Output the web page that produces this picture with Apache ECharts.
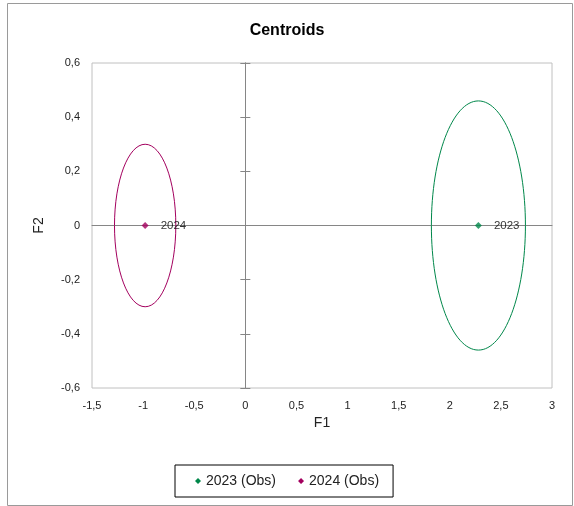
<!DOCTYPE html>
<html>
<head>
<meta charset="utf-8">
<script src="https://cdn.jsdelivr.net/npm/echarts@6/dist/echarts.min.js"></script>
<style>
  html, body { margin: 0; padding: 0; background: #fff; }
  #chart { width: 574px; height: 506px; }
</style>
</head>
<body>
<div id="chart"></div>
<script>
// Centroid positions on the first two factors
var centroidNames = ['2023', '2024'];
var legendNames = ['2023 (Obs)', '2024 (Obs)'];
var centroidF1 = [2.28, -0.98];
var centroidF2 = [0, 0];
// confidence ellipse half-widths (data units)
var ellipseF1 = [0.46, 0.30];
var ellipseF2 = [0.46, 0.30];
var seriesColors = ['#00874a', '#a3005e'];

var xTicks = { min: -1.5, max: 3, interval: 0.5 };
var yTicks = { min: -0.6, max: 0.6, interval: 0.2 };

function fmt(v) {
  var s = Math.abs(v - Math.round(v)) < 1e-9 ? String(Math.round(v)) : (Math.round(v * 10) / 10).toFixed(1);
  return s.replace('.', ',');
}

var font = 'Liberation Sans, Arial, sans-serif';
var axisGray = '#868686';

// zero lines crossing the plot; only the vertical one carries ticks
function zeroAxis(dim, inside, ticks) {
  var base = dim === 'x' ? xTicks : yTicks;
  return {
    type: 'value', min: base.min, max: base.max, interval: base.interval,
    position: dim === 'x' ? 'bottom' : 'left',
    axisLine: { show: true, onZero: true, lineStyle: { color: axisGray, width: 1 } },
    axisTick: { show: ticks, inside: inside, length: 5, lineStyle: { color: axisGray } },
    axisLabel: { show: false },
    splitLine: { show: false }
  };
}

var series = [];
centroidNames.forEach(function(name, i) {
  // ellipse
  series.push({
    type: 'custom',
    name: legendNames[i],
    xAxisIndex: 0, yAxisIndex: 0,
    silent: true,
    data: [[centroidF1[i], centroidF2[i], ellipseF1[i], ellipseF2[i]]],
    renderItem: function(params, api) {
      var c = api.coord([api.value(0), api.value(1)]);
      var s = api.size([api.value(2), api.value(3)]);
      return {
        type: 'ellipse',
        shape: { cx: c[0], cy: c[1], rx: s[0], ry: s[1] },
        style: { fill: 'none', stroke: seriesColors[i], lineWidth: 1 }
      };
    },
    z: 2
  });
  // centroid point
  series.push({
    type: 'scatter',
    name: legendNames[i],
    xAxisIndex: 0, yAxisIndex: 0,
    symbol: 'diamond',
    symbolSize: 7,
    itemStyle: { color: seriesColors[i] },
    label: {
      show: true, position: 'right', distance: 12,
      formatter: name, color: '#000', fontSize: 11.5, fontFamily: font
    },
    data: [[centroidF1[i], centroidF2[i]]],
    z: 5
  });
});

var chart = echarts.init(document.getElementById('chart'));
chart.setOption({
  animation: false,
  title: {
    text: 'Centroids', left: 'center', top: 18,
    textStyle: { fontFamily: font, fontSize: 16, fontWeight: 'bold', color: '#000' }
  },
  graphic: [{
    type: 'rect', silent: true,
    shape: { x: 7.5, y: 3.5, width: 565, height: 502 },
    style: { fill: 'none', stroke: '#9a9a9a', lineWidth: 1 }
  }],
  legend: {
    data: legendNames.map(function(n, i) { return { name: n, itemStyle: { color: seriesColors[i] } }; }),
    left: 175, top: 465,
    icon: 'diamond', itemWidth: 6, itemHeight: 6, itemGap: 22,
    padding: [9, 14, 9, 20],
    borderColor: '#000', borderWidth: 1,
    textStyle: { fontFamily: font, fontSize: 14, color: '#222' }
  },
  grid: {
    left: 92, right: 22, top: 63, bottom: 118,
    show: true, borderColor: '#c0c0c0', borderWidth: 1, backgroundColor: '#fff'
  },
  xAxis: [
    {
      type: 'value', min: xTicks.min, max: xTicks.max, interval: xTicks.interval,
      name: 'F1', nameLocation: 'middle', nameGap: 28,
      nameTextStyle: { fontFamily: font, fontSize: 14, color: '#222' },
      axisLine: { show: false, onZero: false },
      axisTick: { show: false },
      axisLabel: { fontFamily: font, fontSize: 11, color: '#222', margin: 12, formatter: fmt },
      splitLine: { show: false }
    },
    zeroAxis('x', true, false)
  ],
  yAxis: [
    {
      type: 'value', min: yTicks.min, max: yTicks.max, interval: yTicks.interval,
      name: 'F2', nameLocation: 'middle', nameGap: 46,
      nameTextStyle: { fontFamily: font, fontSize: 14, color: '#222' },
      axisLine: { show: false, onZero: false },
      axisTick: { show: false },
      axisLabel: { fontFamily: font, fontSize: 11, color: '#222', margin: 12, formatter: fmt },
      splitLine: { show: false }
    },
    zeroAxis('y', true, true),
    zeroAxis('y', false, true)
  ],
  series: series
});
</script>
</body>
</html>
